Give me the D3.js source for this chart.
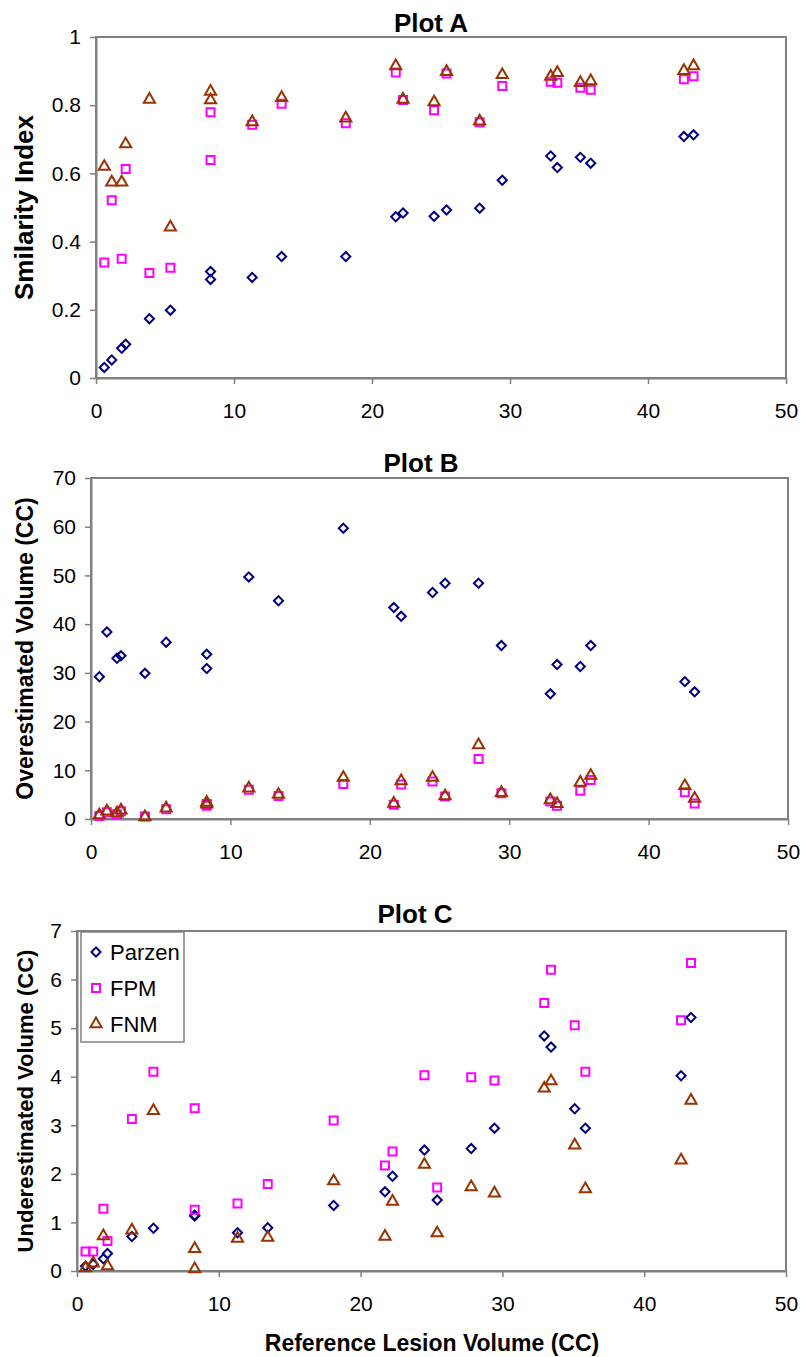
<!DOCTYPE html>
<html>
<head>
<meta charset="utf-8">
<script src="https://cdn.jsdelivr.net/npm/d3@7"></script>
<style>
  body { margin: 0; background: #fff; }
  svg { display: block; font-family: "Liberation Sans", Arial, sans-serif; }
</style>
</head>
<body>
<svg id="chart" width="803" height="1357"></svg>
<script>
// reference lesion volume (CC), shared by all three plots
var lesionVolume = [0.6, 1.14, 1.86, 2.15, 3.87, 5.39, 8.3, 8.3, 11.32, 13.45, 18.1, 21.72, 22.25,
  24.5, 25.4, 27.8, 29.44, 32.95, 33.43, 35.1, 35.85, 42.6, 43.3];

// Plot A - similarity index
var simParzen = [0.031, 0.053, 0.087, 0.099, 0.174, 0.199, 0.312, 0.289, 0.295, 0.356, 0.356, 0.473, 0.484,
  0.474, 0.493, 0.498, 0.580, 0.651, 0.617, 0.647, 0.630, 0.708, 0.713];
var simFPM = [0.339, 0.521, 0.350, 0.613, 0.308, 0.323, 0.779, 0.639, 0.743, 0.804, 0.747, 0.896, 0.815,
  0.785, 0.893, 0.750, 0.856, 0.869, 0.866, 0.851, 0.845, 0.876, 0.885];
var simFNM = [0.620, 0.574, 0.574, 0.686, 0.817, 0.442, 0.840, 0.815, 0.751, 0.822, 0.762, 0.915, 0.817,
  0.809, 0.898, 0.753, 0.889, 0.884, 0.895, 0.866, 0.871, 0.901, 0.915];

// Plot B - overestimated volume (CC)
var overParzen = [29.2, 38.4, 33.0, 33.5, 29.9, 36.3, 33.8, 30.9, 49.7, 44.8, 59.7, 43.4, 41.6,
  46.5, 48.4, 48.4, 35.6, 25.7, 31.7, 31.3, 35.6, 28.2, 26.1];
var overFPM = [0.6, 1.4, 1.0, 1.6, 0.5, 2.0, 3.1, 2.7, 6.0, 4.7, 7.2, 2.9, 7.1,
  7.7, 4.6, 12.3, 5.3, 3.6, 2.7, 5.8, 8.0, 5.5, 3.2];
var overFNM = [0.8, 1.6, 1.2, 1.8, 0.4, 2.2, 3.4, 3.0, 6.3, 5.0, 8.5, 3.2, 7.8,
  8.5, 4.7, 15.2, 5.4, 3.9, 3.1, 7.5, 8.9, 6.8, 4.2];

// Plot C - underestimated volume (CC)
var underParzen = [0.10, 0.14, 0.25, 0.36, 0.71, 0.88, 1.13, 1.15, 0.79, 0.89, 1.35, 1.63, 1.95,
  2.49, 1.46, 2.52, 2.94, 4.84, 4.61, 3.34, 2.94, 4.02, 5.22];
var underFPM = [0.40, 0.40, 1.28, 0.62, 3.13, 4.10, 3.35, 1.26, 1.39, 1.79, 3.10, 2.17, 2.46,
  4.03, 1.72, 3.99, 3.92, 5.52, 6.20, 5.06, 4.10, 5.16, 6.34];
var underFNM = [0.06, 0.16, 0.72, 0.10, 0.84, 3.30, 0.46, 0.04, 0.67, 0.69, 1.85, 0.71, 1.43,
  2.19, 0.78, 1.73, 1.60, 3.76, 3.91, 2.59, 1.69, 2.28, 3.51];

var seriesNames = ["Parzen", "FPM", "FNM"];
var xTicks = [0, 10, 20, 30, 40, 50];

var colors = { Parzen: "#000080", FPM: "#ff00ff", FNM: "#993300" };
var frameColor = "#808080";

var svg = d3.select("#chart");

function markerPath(name) {
  if (name === "Parzen") return d3.symbol(d3.symbolSquare, 42)();
  if (name === "FPM") return d3.symbol(d3.symbolSquare, 64)();
  return d3.symbol(d3.symbolTriangle, 54)();
}
function markerTransform(name, x, y) {
  return "translate(" + x + "," + y + ")" + (name === "Parzen" ? " rotate(45)" : "");
}

var panels = [
  { title: "Plot A", yTitle: "Smilarity Index", yTitleSize: 26, left: 96, right: 786, top: 37, bottom: 378,
    yMax: 1, yTicks: [0, 0.2, 0.4, 0.6, 0.8, 1], titleX: 431, titleY: 32,
    data: { Parzen: simParzen, FPM: simFPM, FNM: simFNM } },
  { title: "Plot B", yTitle: "Overestimated Volume (CC)", yTitleSize: 23, left: 91, right: 788, top: 478, bottom: 819,
    yMax: 70, yTicks: [0, 10, 20, 30, 40, 50, 60, 70], titleX: 421, titleY: 472,
    data: { Parzen: overParzen, FPM: overFPM, FNM: overFNM } },
  { title: "Plot C", yTitle: "Underestimated Volume (CC)", yTitleSize: 22, left: 77, right: 786, top: 931, bottom: 1271,
    yMax: 7, yTicks: [0, 1, 2, 3, 4, 5, 6, 7], titleX: 415, titleY: 923,
    data: { Parzen: underParzen, FPM: underFPM, FNM: underFNM }, legend: true }
];

panels.forEach(function(p) {
  var x = d3.scaleLinear().domain([0, 50]).range([p.left, p.right]);
  var y = d3.scaleLinear().domain([0, p.yMax]).range([p.bottom, p.top]);
  var g = svg.append("g");

  // plot frame
  g.append("rect")
    .attr("x", p.left).attr("y", p.top)
    .attr("width", p.right - p.left).attr("height", p.bottom - p.top)
    .attr("fill", "#fff").attr("stroke", frameColor).attr("stroke-width", 2);

  var xAxis = g.append("g")
    .attr("transform", "translate(0," + p.bottom + ")")
    .call(d3.axisBottom(x).tickValues(xTicks).tickSize(6).tickSizeOuter(0).tickFormat(d3.format("d")));
  xAxis.selectAll("text").attr("y", 40).attr("dy", null);

  var yAxis = g.append("g")
    .attr("transform", "translate(" + p.left + ",0)")
    .call(d3.axisLeft(y).tickValues(p.yTicks).tickSize(6).tickSizeOuter(0)
      .tickFormat(function(d) { return String(+d.toFixed(1)); }));
  yAxis.selectAll("text").attr("x", -15);

  [xAxis, yAxis].forEach(function(a) {
    a.select(".domain").attr("stroke", frameColor).attr("stroke-width", 2);
    a.selectAll(".tick line").attr("stroke", frameColor).attr("stroke-width", 1.5);
    a.selectAll("text").attr("fill", "#000").style("font-size", "21px")
      .style("font-family", "'Liberation Sans', Arial, sans-serif");
  });

  // markers
  seriesNames.forEach(function(name) {
    g.append("g").selectAll("path")
      .data(p.data[name])
      .join("path")
      .attr("d", markerPath(name))
      .attr("transform", function(d, i) { return markerTransform(name, x(lesionVolume[i]), y(d)); })
      .attr("fill", "none")
      .attr("stroke", colors[name])
      .attr("stroke-width", 2);
  });

  g.append("text")
    .attr("x", p.titleX).attr("y", p.titleY)
    .attr("text-anchor", "middle")
    .style("font-size", "26px").style("font-weight", "bold")
    .text(p.title);

  g.append("text")
    .attr("transform", "translate(33," + ((p.top + p.bottom) / 2) + ") rotate(-90)")
    .attr("text-anchor", "middle")
    .style("font-size", p.yTitleSize + "px").style("font-weight", "bold")
    .text(p.yTitle);

  if (p.legend) {
    var lg = g.append("g");
    lg.append("rect")
      .attr("x", 81).attr("y", 932).attr("width", 103).attr("height", 110)
      .attr("fill", "#fff").attr("stroke", frameColor).attr("stroke-width", 1.5);
    seriesNames.forEach(function(name, i) {
      var cy = 952 + i * 36;
      lg.append("path")
        .attr("d", markerPath(name))
        .attr("transform", markerTransform(name, 96, cy))
        .attr("fill", "none").attr("stroke", colors[name]).attr("stroke-width", 2);
      lg.append("text")
        .attr("x", 110).attr("y", cy + 8)
        .style("font-size", "22px")
        .text(name);
    });
  }
});

svg.append("text")
  .attr("x", 432).attr("y", 1351)
  .attr("text-anchor", "middle")
  .style("font-size", "23px").style("font-weight", "bold")
  .text("Reference Lesion Volume (CC)");
</script>
</body>
</html>
